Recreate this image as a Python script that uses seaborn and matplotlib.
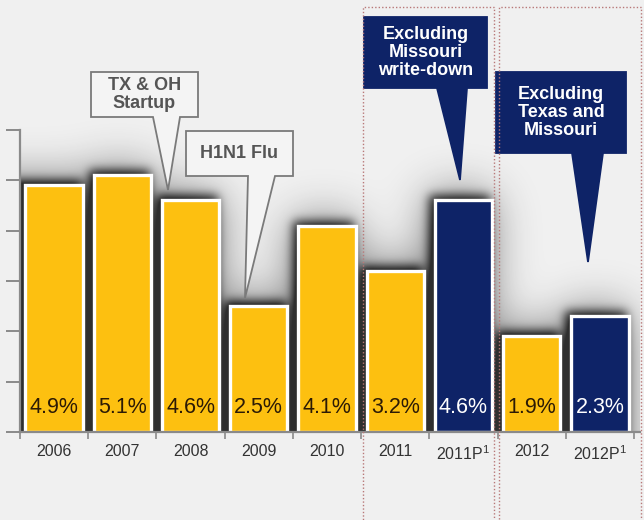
import numpy as np
import matplotlib
matplotlib.use("Agg")
import matplotlib.pyplot as plt
from matplotlib.patches import Polygon, Rectangle
import seaborn as sns

# ---- data ----
years = ["2006", "2007", "2008", "2009", "2010", "2011", "2011P", "2012", "2012P"]
tick_labels = ["2006", "2007", "2008", "2009", "2010", "2011",
               "2011P$^{1}$", "2012", "2012P$^{1}$"]
margins = [4.9, 5.1, 4.6, 2.5, 4.1, 3.2, 4.6, 1.9, 2.3]
pro_forma = [False, False, False, False, False, False, True, False, True]

GOLD = "#FDC010"
NAVY = "#0E2367"
BG = "#F0F0F0"

plt.rcParams["font.family"] = ["Liberation Sans", "DejaVu Sans"]
plt.rcParams["mathtext.default"] = "regular"

W, H = 644, 520
fig = plt.figure(figsize=(W / 100, H / 100), dpi=100, facecolor=BG)

# axes: baseline at y=432 px, 1 unit ~ 50.33 px, left spine at x=20 px
px_per_unit = 50.33
ymax = 432 / px_per_unit
ax = fig.add_axes([20 / W, (H - 432) / H, 620 / W, 432 / H])
ax.set_facecolor(BG)
xlim = (-0.5, 8.5 + 6 / 68.25)

# ---- soft shadow behind the bars ----
nx, ny = 620, 432
xs = np.linspace(xlim[0], xlim[1], nx)
ys = np.linspace(0, ymax, ny)
mask = np.zeros((ny, nx))
for i, v in enumerate(margins):
    cols = np.abs(xs - (i - 0.05)) <= 0.45
    rows = ys <= v + 0.1
    mask[np.ix_(rows, cols)] = 1.0


def blur(img, sigma):
    r = int(3 * sigma)
    k = np.exp(-0.5 * (np.arange(-r, r + 1) / sigma) ** 2)
    k /= k.sum()
    p = np.pad(img, r, mode="edge")
    p = np.apply_along_axis(lambda m: np.convolve(m, k, mode="same"), 0, p)
    p = np.apply_along_axis(lambda m: np.convolve(m, k, mode="same"), 1, p)
    return p[r:-r, r:-r]


alpha = np.clip(0.75 * blur(mask, 5) + 0.6 * blur(mask, 22), 0, 0.9)
shadow = np.zeros((ny, nx, 4))
shadow[..., :3] = 0.1
shadow[..., 3] = alpha
ax.imshow(shadow, origin="lower", extent=(xlim[0], xlim[1], 0, ymax),
          aspect="auto", zorder=1, interpolation="bilinear")

# ---- bars ----
colors = [NAVY if p else GOLD for p in pro_forma]
sns.barplot(x=years, y=margins, hue=years, palette=colors, legend=False,
            width=0.84, edgecolor="white", linewidth=2.4, saturation=1,
            ax=ax, zorder=2)

for i, (v, p) in enumerate(zip(margins, pro_forma)):
    ax.text(i, 0.48, f"{v:.1f}%", ha="center", va="center", fontsize=15.5,
            color="white" if p else "#2B1A05", zorder=4)

ax.set_xlim(*xlim)
ax.set_ylim(0, ymax)

# ---- axes styling ----
for s in ["top", "right"]:
    ax.spines[s].set_visible(False)
for s in ["left", "bottom"]:
    ax.spines[s].set_color("#8A8A8A")
    ax.spines[s].set_linewidth(1.6)
    ax.spines[s].set_zorder(3)
ax.spines["left"].set_bounds(0, 6)
ax.set_yticks(range(7))
ax.set_yticklabels([])
ax.tick_params(axis="y", length=10, width=1.4, color="#8A8A8A", direction="out")
ax.set_xticks(range(len(years)))
ax.set_xticklabels(tick_labels, fontsize=11.5, color="#333333")
ax.set_xticks(np.arange(-0.5, len(years), 1.0), minor=True)
ax.tick_params(axis="x", which="major", length=0, pad=9)
ax.tick_params(axis="x", which="minor", length=5, width=1.2, color="#8A8A8A")
ax.set_xlabel("")
ax.set_ylabel("")


# ---- callouts (figure pixel coordinates, origin top-left) ----
def fpx(x, y):
    return (x / W, 1 - y / H)


def callout(box, ptr, tip, text, face, edge, tcolor):
    x0, y0, x1, y1 = box
    pts = [fpx(x0, y0), fpx(x1, y0), fpx(x1, y1), fpx(ptr[1], y1),
           fpx(*tip), fpx(ptr[0], y1), fpx(x0, y1)]
    fig.patches.append(Polygon(pts, closed=True, transform=fig.transFigure,
                               facecolor=face, edgecolor=edge, linewidth=1.3,
                               zorder=5))
    cx, cy = fpx((x0 + x1) / 2, (y0 + y1) / 2)
    fig.text(cx, cy, text, ha="center", va="center", fontsize=13,
             fontweight="bold", color=tcolor, linespacing=1.1, zorder=6)


callout((91, 72, 198, 117), (153, 180), (168, 190), "TX & OH\nStartup",
        "#F4F4F4", "#7A7A7A", "#555555")
callout((186, 131, 293, 176), (248, 275), (245, 298), "H1N1 Flu",
        "#F4F4F4", "#7A7A7A", "#555555")
callout((364, 17, 487, 88), (437, 467), (460, 180),
        "Excluding\nMissouri\nwrite-down", NAVY, NAVY, "white")
callout((496, 72, 626, 153), (572, 603), (588, 262),
        "Excluding\nTexas and\nMissouri", NAVY, NAVY, "white")

# ---- dotted frames around the pro-forma groups ----
for x0, x1 in [(363, 494), (499, 641)]:
    fig.patches.append(Rectangle(fpx(x0, 530), (x1 - x0) / W, (530 - 7) / H,
                                 transform=fig.transFigure, fill=False,
                                 edgecolor="#B87878", linewidth=1.0,
                                 linestyle=(0, (1, 1.5)), zorder=7))

fig.savefig("out.png", dpi=100, facecolor=BG)
